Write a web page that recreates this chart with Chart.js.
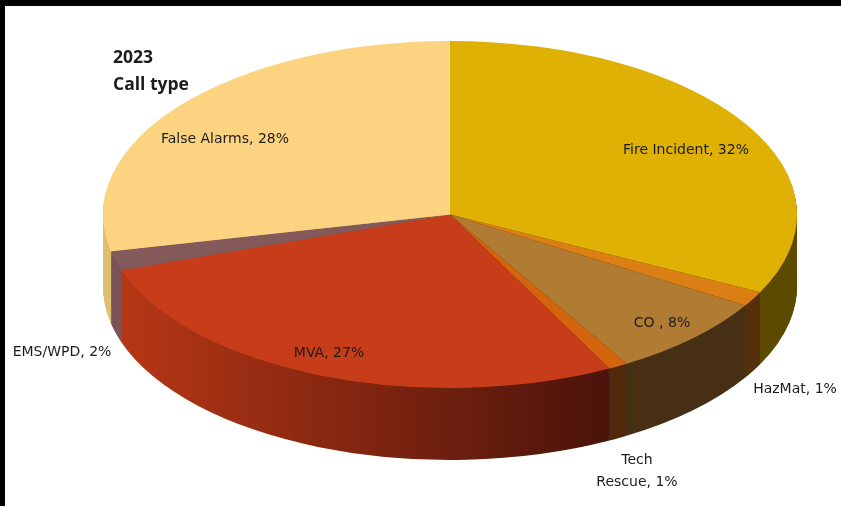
<!DOCTYPE html>
<html>
<head>
<meta charset="utf-8">
<title>2023 Call type</title>
<script src="https://cdn.jsdelivr.net/npm/chart.js@4/dist/chart.umd.min.js"></script>
<style>
  html, body { margin: 0; padding: 0; background: #fff; }
  #wrap { position: relative; width: 841px; height: 506px; overflow: hidden; }
  #chart { display: block; }
  .bar { position: absolute; background: #000; left: 0; top: 0; }
</style>
</head>
<body>
<div id="wrap">
  <canvas id="chart" width="841" height="506"></canvas>
  <div class="bar" style="width:841px;height:6px"></div>
  <div class="bar" style="width:5px;height:506px"></div>
</div>
<script>
// values, labels show them rounded
const categories = ['Fire Incident', 'HazMat', 'CO ', 'Tech Rescue', 'MVA', 'EMS/WPD', 'False Alarms'];
const shares = [32.4, 1.4, 7.7, 0.9, 27.4, 1.8, 28.4];
const topColors = ['#DFB105', '#DB7F14', '#B07B32', '#D4650E', '#C83D19', '#84595A', '#FBD381'];
const wallColors = [
    ['#5C4A00', '#5C4A00'],
    ['#55300A', '#55300A'],
    ['#472F14', '#472F14'],
    ['#52280A', '#52280A'],
    ['#B63716', '#49130A'],
    ['#7A5356', '#6A4A4D'],
    ['#E0BE70', '#D9B768']
];
const titleLines = ['2023', 'Call type'];

const centerX = 450;
const stretchX = 2;    // pie is laid out round, then squashed into an ellipse
const depth = 72;

// centre of each label on the page
const labelSpots = [
    { x: 686, y: 150 },
    { x: 795, y: 389 },
    { x: 662, y: 323 },
    { x: 637, y: 460, wrap: true },
    { x: 329, y: 353 },
    { x: 62, y: 352 },
    { x: 225, y: 139 }
];

const pie3d = {
    id: 'pie3d',
    beforeDatasetsDraw(chart) {
        const ctx = chart.ctx;
        const arcs = chart.getDatasetMeta(0).data;
        ctx.save();
        ctx.translate(centerX, 0);
        ctx.scale(stretchX, 1);
        ctx.translate(-centerX, 0);

        // side walls: stack of darker copies of the slices, bottom first
        const walls = wallColors.map(pair => {
            const g = ctx.createLinearGradient(centerX + (122 - centerX) / stretchX, 0, centerX + (612 - centerX) / stretchX, 0);
            g.addColorStop(0, pair[0]);
            g.addColorStop(1, pair[1]);
            return g;
        });
        for (let d = depth; d > 0; d--) {
            ctx.save();
            ctx.translate(0, d);
            arcs.forEach((arc, i) => {
                const copy = Object.create(arc, {
                    options: { value: { ...arc.options, backgroundColor: walls[i] } }
                });
                copy.draw(ctx);
            });
            ctx.restore();
        }
    },
    afterDatasetsDraw(chart) {
        chart.ctx.restore();
    },
    afterDraw(chart) {
        const ctx = chart.ctx;
        ctx.save();
        ctx.textBaseline = 'middle';
        ctx.fillStyle = '#1c1c1c';

        ctx.font = 'bold 17.5px "Open Sans"';
        ctx.textAlign = 'left';
        titleLines.forEach((line, i) => ctx.fillText(line, 113, 58 + i * 27));

        ctx.font = '14px "DejaVu Sans"';
        ctx.textAlign = 'center';
        categories.forEach((name, i) => {
            const text = name + ', ' + Math.round(shares[i]) + '%';
            const spot = labelSpots[i];
            if (spot.wrap) {
                const cut = text.indexOf(' ');
                ctx.fillText(text.slice(0, cut), spot.x, spot.y);
                ctx.fillText(text.slice(cut + 1), spot.x, spot.y + 22);
            } else {
                ctx.fillText(text, spot.x, spot.y);
            }
        });
        ctx.restore();
    }
};

new Chart(document.getElementById('chart'), {
    type: 'pie',
    data: {
        labels: categories,
        datasets: [{
            data: shares,
            backgroundColor: topColors,
            borderWidth: 0,
            clip: false
        }]
    },
    options: {
        responsive: false,
        animation: false,
        layout: { padding: { left: 104, right: 45, top: 41, bottom: 118 } },
        plugins: {
            legend: { display: false },
            tooltip: { enabled: false }
        }
    },
    plugins: [pie3d]
});
</script>
</body>
</html>
